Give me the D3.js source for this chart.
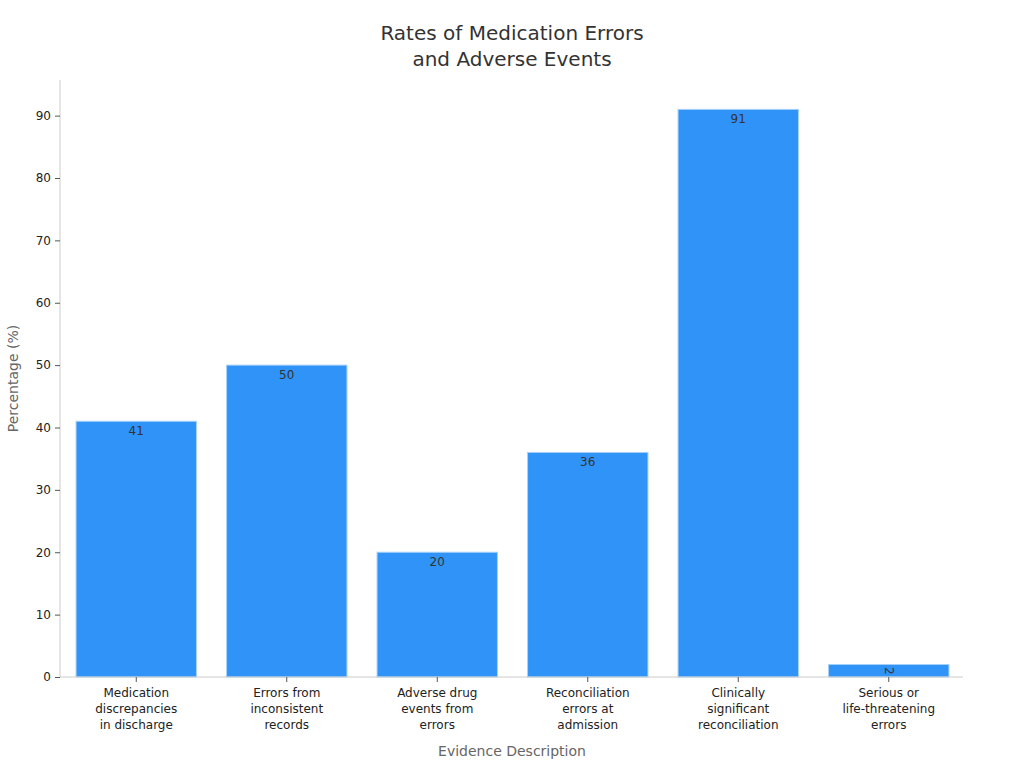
<!DOCTYPE html>
<html><head><meta charset="utf-8">
<script src="https://cdn.jsdelivr.net/npm/d3@7/dist/d3.min.js"></script>
<style>body{margin:0;background:#fff;font-family:"DejaVu Sans",sans-serif}</style>
</head><body><svg id="c" width="1024" height="768"></svg>
<script>
const categories = [
  ["Medication","discrepancies","in discharge"],
  ["Errors from","inconsistent","records"],
  ["Adverse drug","events from","errors"],
  ["Reconciliation","errors at","admission"],
  ["Clinically","significant","reconciliation"],
  ["Serious or","life-threatening","errors"]
];
const values = [41, 50, 20, 36, 91, 2];
const yTicks = [0,10,20,30,40,50,60,70,80,90];
const title = ["Rates of Medication Errors","and Adverse Events"];

const svg = d3.select("#c");
const L = 60, R = 963, B = 677, T = 80;
const keys = categories.map((c,i)=>i);
const x = d3.scaleBand().domain(keys).range([L+1,R+1]).paddingInner(0.2).paddingOuter(0.1);
const y = d3.scaleLinear().domain([0, d3.max(values)*1.05]).range([B,T+1]);

svg.append("g").selectAll("text").data(title).join("text")
  .attr("x",512).attr("y",(d,i)=>40+i*26).attr("text-anchor","middle")
  .attr("font-size",20).attr("fill","#333").text(d=>d);

svg.append("g").selectAll("rect").data(values).join("rect")
  .attr("x",(d,i)=>x(i)).attr("width",x.bandwidth())
  .attr("y",d=>y(d)).attr("height",d=>B-y(d))
  .attr("fill","#2f93f7").attr("stroke","#a6d0f8").attr("stroke-width",1);

svg.append("g").selectAll("text").data(values).join("text")
  .attr("transform",(d,i)=>{
    const cx = x(i)+x.bandwidth()/2;
    if (B - y(d) < 20) return `translate(${cx},${(y(d)+B)/2}) rotate(90)`;
    return `translate(${cx},${y(d)+14})`;
  })
  .attr("text-anchor","middle").attr("dominant-baseline",(d)=> (B-y(d)<20)?"central":"auto")
  .attr("font-size",12).attr("fill","#333").text(d=>d);

// y axis
const ya = svg.append("g").attr("transform",`translate(${L},0)`)
  .call(d3.axisLeft(y).tickValues(yTicks).tickSize(5).tickPadding(4));
ya.select(".domain").attr("stroke","#ccc").attr("d",`M0,${B}V${T}`);
ya.selectAll(".tick line").attr("stroke","#555");
ya.selectAll(".tick text").attr("font-size",12).attr("fill","#222").attr("font-family","DejaVu Sans");

// x axis
const xa = svg.append("g").attr("transform",`translate(0,${B})`)
  .call(d3.axisBottom(x).tickSize(5).tickFormat(""));
xa.select(".domain").attr("stroke","#ccc").attr("d",`M${L},0H${R}`);
xa.selectAll(".tick line").attr("stroke","#555");
xa.selectAll(".tick").each(function(d){
  d3.select(this).append("text").attr("text-anchor","middle").attr("fill","#222")
    .attr("font-size",12).attr("font-family","DejaVu Sans")
    .selectAll("tspan").data(categories[d]).join("tspan")
    .attr("x",0).attr("y",(t,j)=>20+j*16).text(t=>t);
});

svg.append("text").attr("x",512).attr("y",756).attr("text-anchor","middle")
  .attr("font-size",14).attr("fill","#666").text("Evidence Description");
svg.append("text").attr("transform",`translate(18,${(T+B)/2}) rotate(-90)`)
  .attr("text-anchor","middle").attr("font-size",14).attr("fill","#666").text("Percentage (%)");
</script></body></html>
